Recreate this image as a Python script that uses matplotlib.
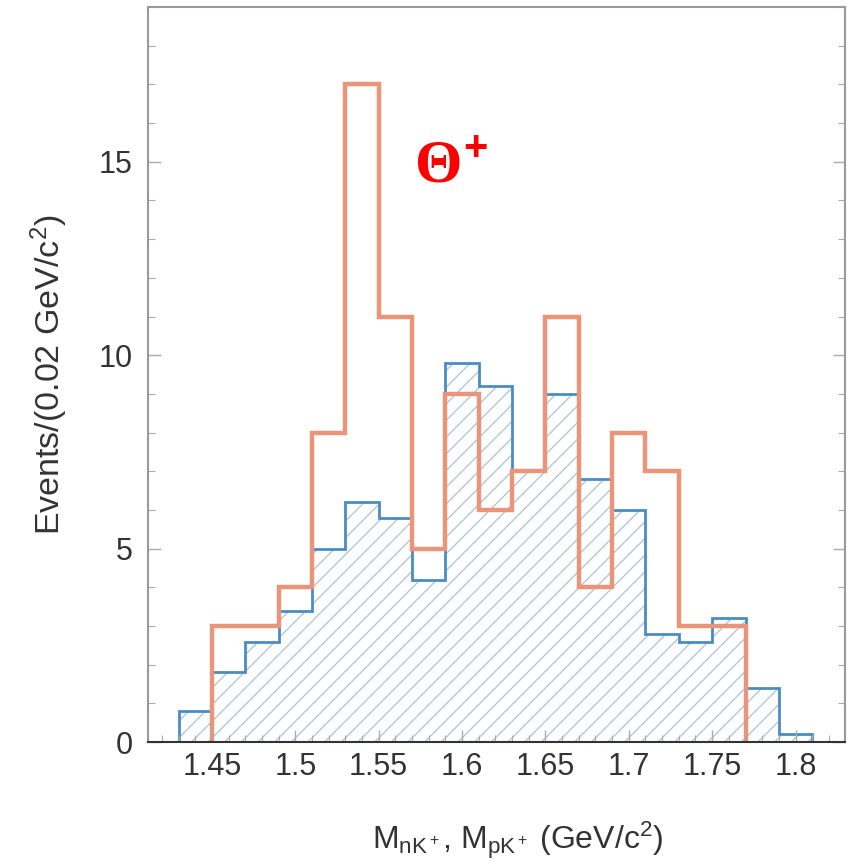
import numpy as np
import matplotlib
matplotlib.use("Agg")
import matplotlib.pyplot as plt
from matplotlib.ticker import MultipleLocator

plt.rcParams['font.family'] = ['Liberation Sans', 'DejaVu Sans']
plt.rcParams['mathtext.fontset'] = 'custom'
plt.rcParams['mathtext.rm'] = 'Liberation Sans'
plt.rcParams['mathtext.it'] = 'Liberation Sans:italic'
plt.rcParams['hatch.linewidth'] = 0.9

# nK+ spectrum (hatched) and pK+ spectrum (open), 0.02 GeV bins
edges_nk = np.round(np.arange(1.43, 1.8101, 0.02), 2)
counts_nk = [0.8, 1.8, 2.6, 3.4, 5.0, 6.2, 5.8, 4.2, 9.8, 9.2,
             7.0, 9.0, 6.8, 6.0, 2.8, 2.6, 3.2, 1.4, 0.2]
edges_pk = np.round(np.arange(1.45, 1.7701, 0.02), 2)
counts_pk = [3, 3, 4, 8, 17, 11, 5, 9, 6, 7, 11, 4, 8, 7, 3, 3]

fig = plt.figure(figsize=(8.5, 8.68), dpi=100)
ax = fig.add_axes([0.174, 0.145, 0.82, 0.847])

ax.stairs(counts_nk, edges_nk, fill=True, facecolor='none', edgecolor='#a8c3dc',
          hatch='//', linewidth=0)
ax.stairs(counts_nk, edges_nk, color='#4a8cc4', linewidth=2.0)
ax.stairs(counts_pk, edges_pk, color='#ea9479', linewidth=3.2)

ax.text(1.572, 14.5, 'Θ', color='#ff0000', fontsize=44, fontweight='bold',
        family=['Liberation Serif', 'DejaVu Serif'], va='baseline')
ax.text(1.601, 15.05, '+', color='#ff0000', fontsize=30, fontweight='bold',
        family=['Liberation Sans', 'DejaVu Sans'], va='baseline')

ax.set_xlim(1.4116, 1.8296)
ax.set_ylim(0, 19.0)
ax.xaxis.set_minor_locator(MultipleLocator(0.01))
ax.yaxis.set_major_locator(MultipleLocator(5))
ax.yaxis.set_minor_locator(MultipleLocator(1))
ax.set_xticks([1.45, 1.5, 1.55, 1.6, 1.65, 1.7, 1.75, 1.8])
ax.set_xticklabels(['1.45', '1.5', '1.55', '1.6', '1.65', '1.7', '1.75', '1.8'])

ax.tick_params(which='both', direction='in', colors='#aaaaaa', labelcolor='#333333',
               labelsize=22, left=True, right=True, top=False, bottom=True)
ax.tick_params(which='major', length=9, width=1)
ax.tick_params(which='minor', length=5, width=0.8)
ax.tick_params(axis='x', pad=7)
ax.tick_params(axis='y', pad=11)

for side in ['left', 'right', 'top']:
    ax.spines[side].set_color('#999999')
    ax.spines[side].set_linewidth(1.5)
ax.spines['bottom'].set_color('#333333')
ax.spines['bottom'].set_linewidth(1.5)

ax.set_ylabel('Events/(0.02 GeV/c$^2$)', fontsize=24.5, color='#333333')
ax.set_xlabel(r'M$_{\mathrm{nK}^+}$, M$_{\mathrm{pK}^+}$ (GeV/c$^2$)', fontsize=23,
              color='#333333')
ax.yaxis.set_label_coords(-0.112, 0.5)
ax.xaxis.set_label_coords(0.53, -0.105)

fig.savefig('out.png', dpi=100, facecolor='white')
